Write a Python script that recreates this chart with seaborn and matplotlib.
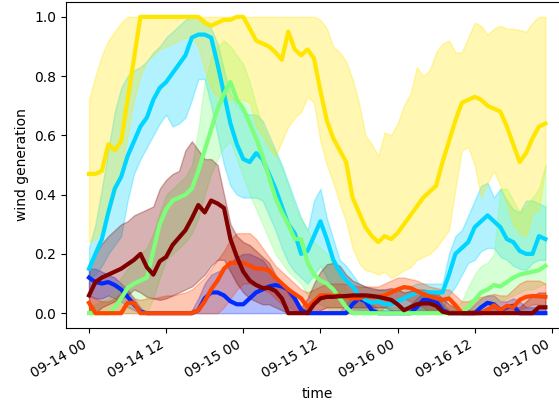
import numpy as np
import pandas as pd
import matplotlib
matplotlib.use("Agg")
import matplotlib.pyplot as plt
import matplotlib.dates as mdates
import seaborn as sns

# hourly timestamps, 3 days
times = pd.date_range("2023-09-14 00:00", periods=72, freq="h")

# mean curves
blue_mean = [0.12, 0.105, 0.1, 0.105, 0.095, 0.08, 0.055, 0.03, 0.005, 0,
             0, 0, 0, 0, 0, 0, 0, 0.01, 0.05, 0.07,
             0.07, 0.06, 0.04, 0.03, 0.03, 0.05, 0.07, 0.08, 0.09, 0.095,
             0.09, 0.08, 0.05, 0.01, 0, 0, 0, 0, 0, 0,
             0, 0.03, 0.05, 0.04, 0.01, 0, 0, 0, 0, 0,
             0, 0.02, 0.045, 0.045, 0.04, 0.01, 0, 0, 0, 0,
             0, 0.02, 0.035, 0.03, 0.01, 0.02, 0.025, 0, 0, 0,
             0, 0]
cyan_mean = [0.15, 0.2, 0.25, 0.34, 0.42, 0.46, 0.53, 0.58, 0.63, 0.66,
             0.72, 0.76, 0.78, 0.81, 0.84, 0.87, 0.93, 0.94, 0.94, 0.93,
             0.84, 0.74, 0.64, 0.57, 0.52, 0.51, 0.54, 0.52, 0.47, 0.42,
             0.36, 0.3, 0.27, 0.2, 0.21, 0.26, 0.31, 0.25, 0.18, 0.14,
             0.11, 0.09, 0.06, 0.045, 0.035, 0.04, 0.03, 0.03, 0.04, 0.05,
             0.06, 0.07, 0.07, 0.07, 0.07, 0.07, 0.13, 0.2, 0.22, 0.24,
             0.29, 0.31, 0.33, 0.31, 0.29, 0.25, 0.24, 0.21, 0.2, 0.2,
             0.26, 0.25]
green_mean = [0, 0, 0, 0, 0.02, 0.05, 0.085, 0.1, 0.11, 0.12,
              0.21, 0.3, 0.35, 0.38, 0.39, 0.4, 0.42, 0.48, 0.55, 0.62,
              0.69, 0.74, 0.78, 0.72, 0.69, 0.64, 0.59, 0.53, 0.46, 0.39,
              0.34, 0.3, 0.25, 0.25, 0.17, 0.13, 0.11, 0.1, 0.08, 0.05,
              0.02, 0, 0, 0, 0, 0, 0, 0, 0, 0,
              0, 0, 0, 0, 0, 0, 0, 0, 0, 0.02,
              0.045, 0.07, 0.08, 0.095, 0.09, 0.105, 0.12, 0.13, 0.135, 0.14,
              0.145, 0.16]
yellow_mean = [0.47, 0.47, 0.48, 0.57, 0.55, 0.58, 0.72, 0.86, 1.0, 1.0,
               1.0, 1.0, 1.0, 1.0, 1.0, 1.0, 1.0, 1.0, 0.98, 0.97,
               0.98, 0.99, 0.99, 1.0, 1.0, 0.96, 0.92, 0.91, 0.9, 0.88,
               0.855, 0.95, 0.89, 0.87, 0.89, 0.86, 0.75, 0.65, 0.59, 0.55,
               0.51, 0.39, 0.34, 0.29, 0.26, 0.24, 0.26, 0.25, 0.27, 0.3,
               0.33, 0.36, 0.39, 0.41, 0.43, 0.51, 0.58, 0.65, 0.71, 0.72,
               0.73, 0.72, 0.7, 0.69, 0.68, 0.63, 0.57, 0.51, 0.54, 0.59,
               0.63, 0.64]
orange_mean = [0.035, 0, 0, 0, 0, 0, 0.035, 0.035, 0, 0,
               0, 0, 0, 0, 0, 0, 0, 0.01, 0.04, 0.08,
               0.11, 0.15, 0.17, 0.17, 0.17, 0.16, 0.15, 0.15, 0.145, 0.12,
               0.1, 0.08, 0.065, 0.05, 0.02, 0.04, 0.06, 0.06, 0.058, 0.06,
               0.055, 0.05, 0.05, 0.058, 0.055, 0.055, 0.06, 0.07, 0.08, 0.088,
               0.085, 0.075, 0.065, 0.057, 0.05, 0.045, 0.05, 0.027, 0, 0,
               0, 0, 0.01, 0.027, 0.01, 0.025, 0.02, 0.045, 0.055, 0.058,
               0.057, 0.055]
maroon_mean = [0.06, 0.105, 0.12, 0.13, 0.14, 0.15, 0.165, 0.18, 0.2, 0.155,
               0.13, 0.175, 0.19, 0.23, 0.255, 0.28, 0.32, 0.365, 0.34, 0.38,
               0.37, 0.355, 0.25, 0.19, 0.14, 0.11, 0.095, 0.085, 0.085, 0.075,
               0.05, 0, 0, 0, 0, 0.03, 0.05, 0.055, 0.055, 0.057,
               0.058, 0.06, 0.06, 0.06, 0.058, 0.055, 0.05, 0.045, 0.03, 0.01,
               0.02, 0.03, 0.033, 0.033, 0.025, 0.005, 0, 0, 0, 0,
               0, 0, 0, 0, 0, 0, 0, 0, 0, 0,
               0.02, 0.02]

# band limits
blue_hi = [0.15, 0.15, 0.14, 0.13, 0.12, 0.1, 0.08, 0.05, 0.02, 0,
           0, 0, 0, 0, 0, 0, 0.01, 0.05, 0.1, 0.13,
           0.14, 0.15, 0.17, 0.19, 0.2, 0.2, 0.19, 0.18, 0.15, 0.12,
           0.1, 0.07, 0.05, 0.02, 0.01, 0.005, 0.005, 0.005, 0.005, 0.005,
           0.03, 0.06, 0.07, 0.06, 0.03, 0.01, 0.01, 0.01, 0.01, 0.01,
           0.03, 0.05, 0.07, 0.07, 0.06, 0.03, 0.01, 0.01, 0.01, 0.01,
           0.03, 0.05, 0.06, 0.06, 0.04, 0.04, 0.05, 0.04, 0.02, 0.02,
           0.02, 0.02]
blue_lo = [0.06, 0.05, 0.05, 0.06, 0.05, 0.04, 0.02, 0.01] + [0] * 64
cyan_hi = [0.22, 0.3, 0.42, 0.55, 0.68, 0.76, 0.8, 0.82, 0.83, 0.85,
           0.88, 0.9, 0.93, 0.95, 0.97, 0.99, 1.0, 1.0, 0.99, 0.96,
           0.91, 0.82, 0.74, 0.7, 0.68, 0.67, 0.67, 0.65, 0.6, 0.55,
           0.5, 0.44, 0.38, 0.32, 0.28, 0.38, 0.42, 0.32, 0.25, 0.18,
           0.16, 0.13, 0.1, 0.09, 0.08, 0.08, 0.08, 0.08, 0.08, 0.09,
           0.09, 0.1, 0.1, 0.1, 0.1, 0.1, 0.2, 0.26, 0.28, 0.33,
           0.38, 0.43, 0.44, 0.39, 0.42, 0.38, 0.35, 0.34, 0.38, 0.38,
           0.37, 0.36]
cyan_lo = [0.12, 0.13, 0.16, 0.2, 0.23, 0.26, 0.38, 0.47, 0.52, 0.56,
           0.6, 0.64, 0.67, 0.63, 0.64, 0.66, 0.72, 0.79, 0.79, 0.7,
           0.6, 0.5, 0.43, 0.4, 0.39, 0.39, 0.39, 0.38, 0.33, 0.28,
           0.22, 0.17, 0.14, 0.12, 0.1, 0.13, 0.16, 0.12, 0.08, 0.06,
           0.04, 0.02, 0.01, 0.01, 0.01, 0.01, 0.01, 0.01, 0.01, 0.01,
           0.01, 0.01, 0.01, 0.01, 0.01, 0.01, 0.06, 0.09, 0.13, 0.17,
           0.18, 0.21, 0.22, 0.22, 0.19, 0.18, 0.16, 0.15, 0.145, 0.17,
           0.18, 0.18]
green_hi = [0.02, 0.03, 0.04, 0.05, 0.08, 0.12, 0.15, 0.18, 0.2, 0.22,
            0.27, 0.34, 0.4, 0.42, 0.44, 0.46, 0.5, 0.62, 0.78, 0.86,
            0.9, 0.92, 0.9, 0.87, 0.84, 0.78, 0.7, 0.63, 0.58, 0.54,
            0.49, 0.43, 0.36, 0.32, 0.28, 0.24, 0.22, 0.2, 0.17, 0.12,
            0.08, 0.05, 0.03, 0.02, 0.02, 0.02, 0.02, 0.02, 0.02, 0.02,
            0.02, 0.02, 0.02, 0.02, 0.02, 0.02, 0.02, 0.02, 0.04, 0.09,
            0.13, 0.16, 0.17, 0.2, 0.42, 0.42, 0.38, 0.34, 0.36, 0.39,
            0.42, 0.5]
green_lo = [0] * 10 + [
            0.05, 0.12, 0.18, 0.2, 0.22, 0.24, 0.27, 0.32, 0.4, 0.47,
            0.52, 0.56, 0.58, 0.52, 0.46, 0.4, 0.35, 0.3, 0.25, 0.2,
            0.17, 0.14, 0.12, 0.1, 0.06, 0.04, 0.03, 0.02, 0, 0] + [0] * 20 + [
            0.01, 0.02, 0.03, 0.04, 0.04, 0.05, 0.06, 0.07, 0.08, 0.08,
            0.09, 0.1]
yellow_hi = [0.72, 0.8, 0.87, 0.92, 0.95, 0.98] + [1.0] * 30 + [
             0.99, 0.96, 0.9, 0.88,
             0.85, 0.79, 0.71, 0.6, 0.57, 0.53, 0.61, 0.6, 0.64, 0.7,
             0.74, 0.83, 0.8, 0.82, 0.88, 0.91, 0.92, 0.88, 0.88, 0.93,
             0.98, 0.97, 0.94, 0.96, 0.97, 0.96, 0.96, 0.955, 0.95, 0.98,
             1.0, 1.0]
yellow_lo = [0.24, 0.25, 0.28, 0.33, 0.4, 0.48, 0.6, 0.72, 0.8, 0.85,
             0.87, 0.89, 0.9, 0.91, 0.92, 0.93, 0.93, 0.9, 0.82, 0.76,
             0.73, 0.73, 0.72, 0.72, 0.72, 0.71, 0.63, 0.6, 0.56, 0.53,
             0.58, 0.63, 0.66, 0.68, 0.73, 0.71, 0.58, 0.5, 0.44, 0.37,
             0.31, 0.22, 0.17, 0.145, 0.14, 0.13, 0.14, 0.12, 0.13, 0.145,
             0.155, 0.18, 0.19, 0.2, 0.22, 0.25, 0.28, 0.42, 0.55, 0.56,
             0.5, 0.39, 0.44, 0.48, 0.43, 0.37, 0.3, 0.27, 0.26, 0.34,
             0.35, 0.49]
orange_hi = [0.06, 0.05, 0.04, 0.04, 0.05, 0.07, 0.07, 0.05, 0.045, 0.05,
             0.05, 0.055, 0.06, 0.06, 0.065, 0.07, 0.08, 0.1, 0.12, 0.15,
             0.18, 0.21, 0.25, 0.27, 0.27, 0.27, 0.25, 0.22, 0.19, 0.16,
             0.14, 0.12, 0.1, 0.08, 0.07, 0.08, 0.09, 0.1, 0.1, 0.1,
             0.1, 0.095, 0.09, 0.09, 0.09, 0.09, 0.1, 0.11, 0.12, 0.12,
             0.115, 0.11, 0.1, 0.09, 0.085, 0.08, 0.08, 0.06, 0.04, 0.04,
             0.05, 0.055, 0.06, 0.065, 0.06, 0.06, 0.08, 0.1, 0.11, 0.11,
             0.11, 0.1]
orange_lo = [0] * 21 + [
             0.02, 0.05, 0.08, 0.1, 0.1, 0.09, 0.08, 0.07, 0.05, 0.03,
             0.02, 0.01] + [0] * 13 + [
             0.02, 0.03, 0.04, 0.05, 0.04, 0.03, 0.02] + [0] * 14 + [
             0.01, 0.02, 0.03, 0.03, 0.03]
maroon_hi = [0.155, 0.2, 0.235, 0.26, 0.28, 0.3, 0.31, 0.33, 0.34, 0.35,
             0.36, 0.42, 0.45, 0.47, 0.48, 0.55, 0.58, 0.55, 0.52, 0.52,
             0.5, 0.4, 0.3, 0.26, 0.24, 0.23, 0.21, 0.19, 0.17, 0.13,
             0.1, 0.065, 0.04, 0.02, 0.05, 0.1, 0.14, 0.165, 0.17, 0.16,
             0.13, 0.11, 0.1, 0.09, 0.085, 0.08, 0.08, 0.085, 0.08, 0.07,
             0.075, 0.08, 0.08, 0.075, 0.07, 0.05, 0.03, 0.02, 0.01, 0.01,
             0.01, 0.01, 0.02, 0.02, 0.02, 0.02, 0.02, 0.02, 0.04, 0.06,
             0.07, 0.07]
maroon_lo = [0, 0, 0.02, 0.03, 0.04, 0.05, 0.06, 0.08, 0.07, 0.055,
             0.05, 0.045, 0.05, 0.06, 0.07, 0.08, 0.09, 0.11, 0.13, 0.16,
             0.18, 0.18, 0.14, 0.1, 0.07, 0.05, 0.04, 0.03, 0.03, 0.02,
             0.01, 0, 0, 0, 0, 0, 0.01, 0.02, 0.02, 0.02,
             0.02, 0.02, 0.02, 0.02, 0.02, 0.02, 0.02, 0.01, 0, 0] + [0] * 22

series = [
    (blue_mean, blue_lo, blue_hi),
    (cyan_mean, cyan_lo, cyan_hi),
    (green_mean, green_lo, green_hi),
    (yellow_mean, yellow_lo, yellow_hi),
    (orange_mean, orange_lo, orange_hi),
    (maroon_mean, maroon_lo, maroon_hi),
]
colors = plt.cm.jet(np.linspace(0, 1, 7))[1:]

fig = plt.figure(figsize=(5.59, 4.12), dpi=100)
ax = fig.add_axes([66.2 / 559, 84 / 412, 502 / 559, 326 / 412])

for (mean, lo, hi), c in zip(series, colors):
    df = pd.DataFrame({"time": times, "wind generation": mean})
    ax.fill_between(times, lo, hi, color=c, alpha=0.3)
    sns.lineplot(data=df, x="time", y="wind generation", color=c, lw=3, ax=ax)

ax.xaxis.set_major_locator(mdates.HourLocator(byhour=[0, 12]))
ax.xaxis.set_major_formatter(mdates.DateFormatter("%m-%d %H"))
plt.setp(ax.get_xticklabels(), rotation=30, ha="right")
ax.set_xlabel("time")
ax.set_ylabel("wind generation")

fig.savefig("out.png", dpi=100)
